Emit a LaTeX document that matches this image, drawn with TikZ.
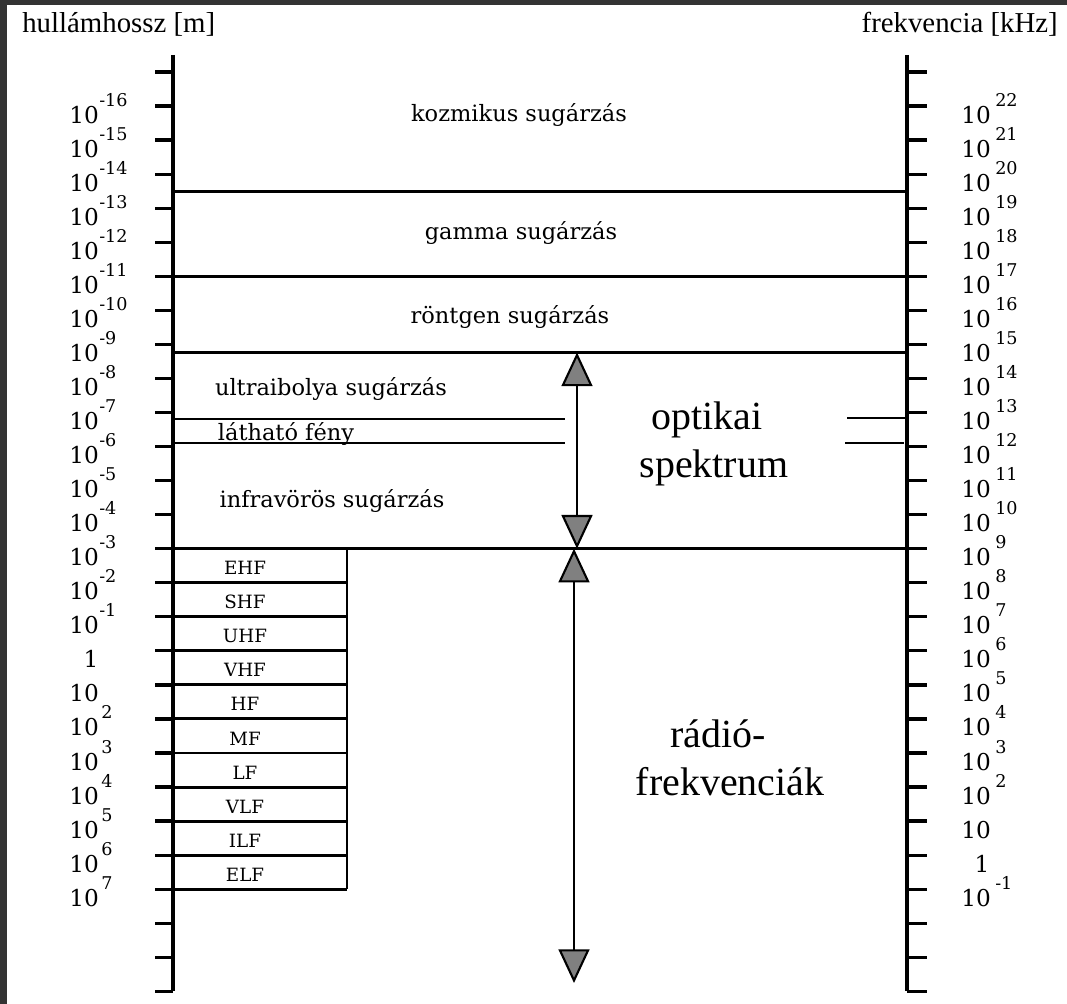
\documentclass[tikz,border=0pt]{standalone}
\usepackage{fontspec}
\setmainfont{Liberation Serif}
\newfontfamily\slabfont{DejaVu Serif}
\usetikzlibrary{arrows.meta}
\definecolor{framegray}{HTML}{333333}

\begin{document}
\begin{tikzpicture}[x=0.025cm,y=-0.025cm,
    axisline/.style={line width=2.3pt},
    bandline/.style={line width=2.1pt},
    thinband/.style={line width=1.7pt},
    numlbl/.style={inner sep=0pt,font=\slabfont\fontsize{16.5}{18}\selectfont},
    explbl/.style={inner sep=0pt,font=\slabfont\fontsize{12.5}{14}\selectfont},
    bandlbl/.style={inner sep=0pt,anchor=base,font=\slabfont\fontsize{16}{18}\selectfont},
    radiolbl/.style={inner sep=0pt,anchor=base,font=\slabfont\fontsize{13}{15}\selectfont},
    bigtxt/.style={inner sep=0pt,anchor=base,font=\fontsize{28.4}{32}\selectfont},
    headtxt/.style={inner sep=0pt,font=\fontsize{20.5}{24}\selectfont},
    spektip/.tip={Triangle[length=24pt,width=22pt,fill=gray,line width=1.5pt]},
    spekarrow/.style={line width=1.8pt,spektip-spektip}]
  % frame and page
  \fill[framegray] (0,0) rectangle (1067,1004);
  \fill[white] (7,5) rectangle (1067,1004);

  % headings
  \node[headtxt,anchor=base west] (hwave) at (22,33) {hullámhossz [m]};
  \node[headtxt,anchor=base east] (hfreq) at (1058,33) {frekvencia [kHz]};

  % the two scales
  \draw[axisline] (173,55) -- (173,{72+34.05*27});
  \draw[axisline] (907,55) -- (907,{72+34.05*27});
  \foreach \k in {0,...,27} {
    \draw[axisline] (155,{72+34.05*\k}) -- (173,{72+34.05*\k});
    \draw[axisline] (907,{72+34.05*\k}) -- (927,{72+34.05*\k});
  }

  % wavelength labels
  \foreach \e [count=\k] in {-16,-15,...,-1} {
    \node[numlbl,anchor=base west] (wl\k) at (69,{72+34.05*\k+17}) {10};
    \node[explbl,anchor=base west] (we\k) at (99,{72+34.05*\k}) {\e};
  }
  \node[numlbl,anchor=base] (wl17) at (91,{72+34.05*17+17}) {1};
  \node[numlbl,anchor=base west] (wl18) at (69,{72+34.05*18+17}) {10};
  \foreach \e [count=\k from 19] in {2,...,7} {
    \node[numlbl,anchor=base west] (wl\k) at (69,{72+34.05*\k+17}) {10};
    \node[explbl,anchor=base west] (we\k) at (101,{72+34.05*\k}) {\e};
  }

  % frequency labels
  \foreach \e [count=\k] in {22,21,...,2} {
    \node[numlbl,anchor=base west] (fl\k) at (961,{72+34.05*\k+17}) {10};
    \node[explbl,anchor=base west] (fe\k) at (995,{72+34.05*\k}) {\e};
  }
  \node[numlbl,anchor=base west] (fl22) at (961,{72+34.05*22+17}) {10};
  \node[numlbl,anchor=base] (fl23) at (982,{72+34.05*23+17}) {1};
  \node[numlbl,anchor=base west] (fl24) at (961,{72+34.05*24+17}) {10};
  \node[explbl,anchor=base west] (fe24) at (995,{72+34.05*24}) {-1};

  % band borders
  \draw[bandline] (173,191.5) -- (907,191.5);
  \draw[bandline] (173,{72+34.05*6}) -- (907,{72+34.05*6});
  \draw[bandline] (173,352.5) -- (907,352.5);
  \draw[thinband] (171,419) -- (565,419);
  \draw[thinband] (173,443) -- (565,443);
  \draw[thinband] (847,418) -- (907,418);
  \draw[thinband] (845,443) -- (904,443);
  \draw[bandline] (173,{72+34.05*14}) -- (907,{72+34.05*14});

  % radio bands
  \foreach \k in {15,...,24}
    \draw[bandline] (173,{72+34.05*\k}) -- (347,{72+34.05*\k});
  \draw[bandline] (347,{72+34.05*14}) -- (347,{72+34.05*24});
  \foreach \b [count=\k from 14] in {EHF,SHF,UHF,VHF,HF,MF,LF,VLF,ILF,ELF}
    \node[radiolbl] (\b) at (245,{72+34.05*(\k+1)-8}) {\b};

  % band names
  \node[bandlbl] (kozm) at (519,122) {kozmikus sugárzás};
  \node[bandlbl] (gamma) at (521,240) {gamma sugárzás};
  \node[bandlbl] (rtg) at (510,324) {röntgen sugárzás};
  \node[bandlbl] (uv) at (331,396) {ultraibolya sugárzás};
  \node[bandlbl] (vis) at (286,441) {látható fény};
  \node[bandlbl] (ir) at (332,507) {infravörös sugárzás};

  \node[bigtxt] (opt1) at (707,430) {optikai};
  \node[bigtxt] (opt2) at (714,477) {spektrum};
  \node[bigtxt] (rad1) at (718,747) {rádió-};
  \node[bigtxt] (rad2) at (730,795) {frekvenciák};

  % ranges
  \coordinate (optTop) at (577,352.5);
  \coordinate (optBot) at (577,{72+34.05*14});
  \coordinate (radTop) at (574,{72+34.05*14});
  \coordinate (radBot) at (574,983);
  \draw[spekarrow] (optTop) -- (optBot);
  \draw[spekarrow] (radTop) -- (radBot);
\end{tikzpicture}
\end{document}
